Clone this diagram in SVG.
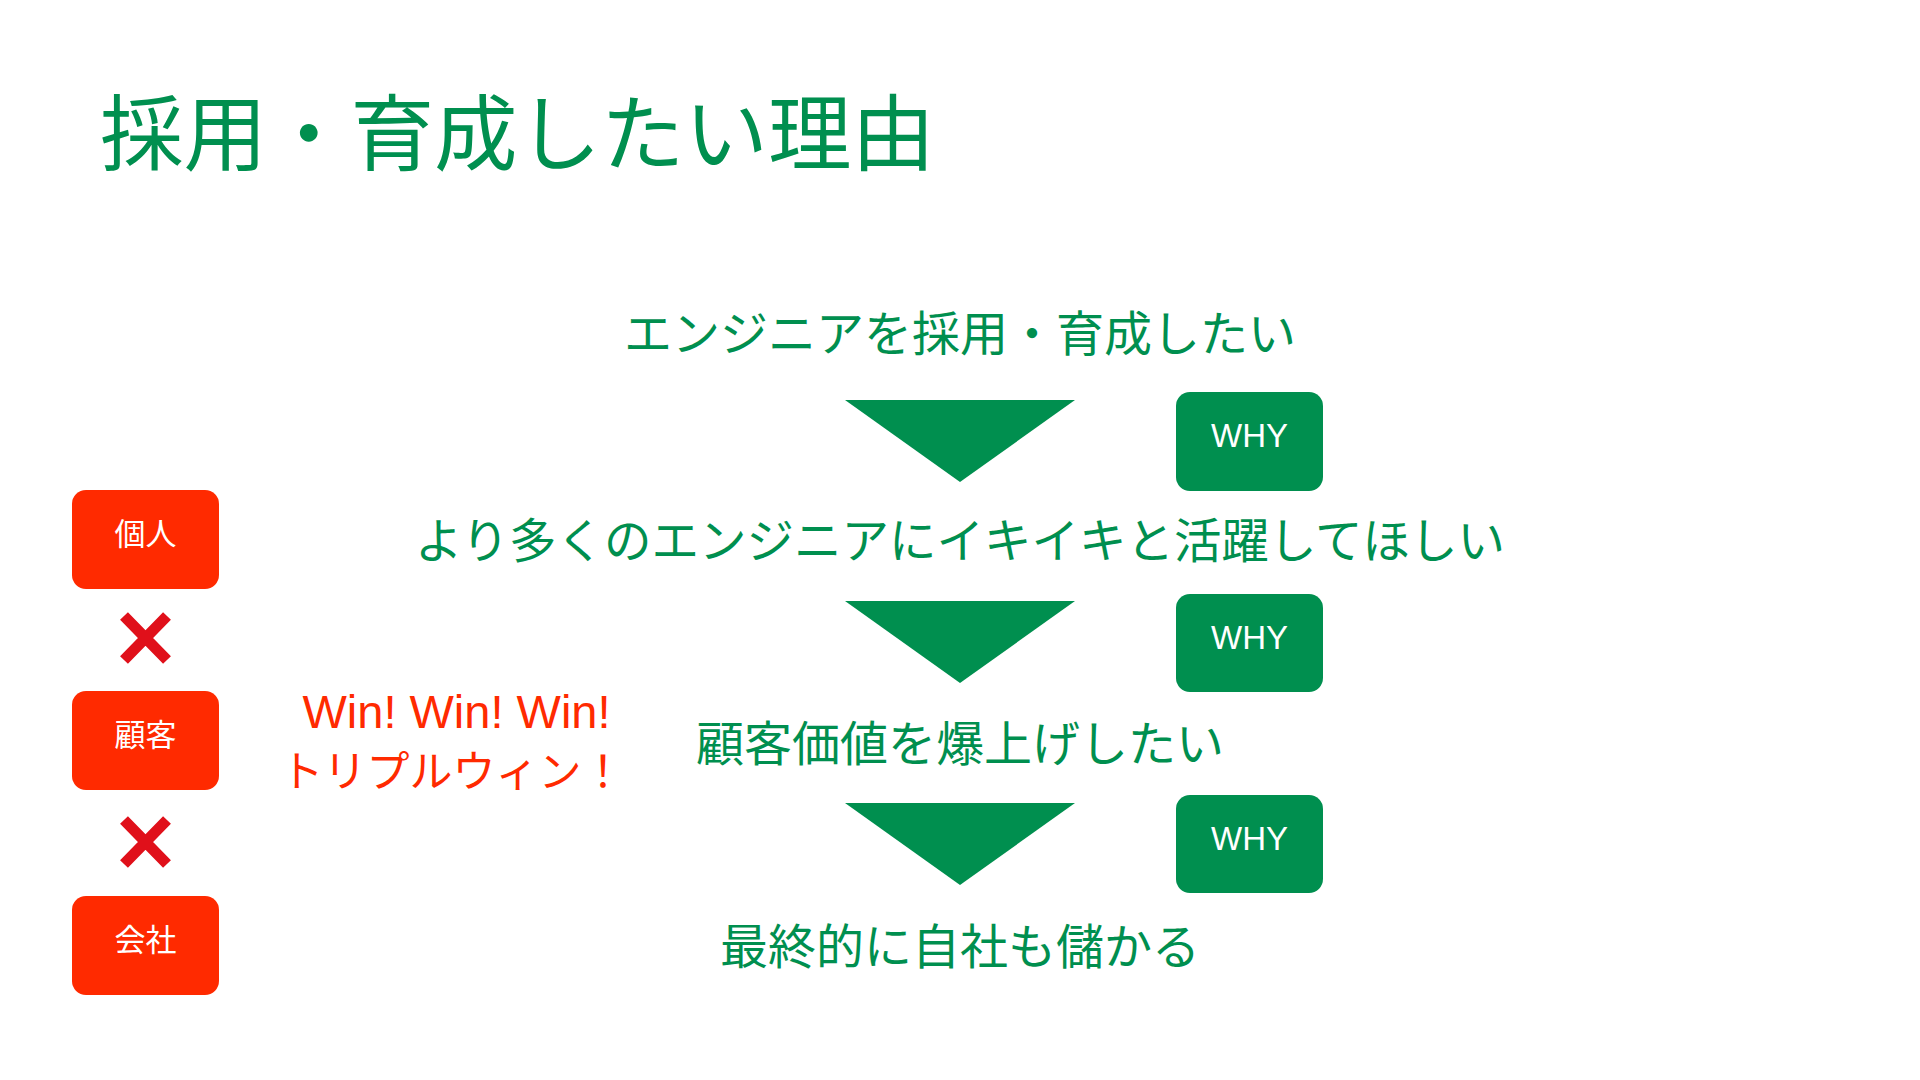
<svg xmlns="http://www.w3.org/2000/svg" width="1920" height="1080" viewBox="0 0 1920 1080">
<defs>
<style>
.g{fill:#008F4F}
.jp{font-family:"Noto Sans CJK JP","Noto Sans",sans-serif}
.line{font-size:48px;fill:#008F4F;text-anchor:middle}
.why{fill:#008F4F}
.whyt{font-family:"Liberation Sans",Arial,sans-serif;font-size:33px;fill:#ffffff;text-anchor:middle}
.red{fill:#FF2A00}
.redt{font-size:31px;fill:#ffffff;text-anchor:middle}
.x{stroke:#E0101A;stroke-width:11;fill:none}
.win{fill:#FF2A00;text-anchor:middle}
</style>
</defs>
<rect width="1920" height="1080" fill="#ffffff"/>
<text id="title" class="jp" x="100" y="164" font-size="83.5" fill="#008F4F">採用・育成したい理由</text>

<g id="step1"><text class="jp line" x="960" y="351">エンジニアを採用・育成したい</text></g>
<g id="step2"><text class="jp line" x="960" y="558" style="font-size:47.5px">より多くのエンジニアにイキイキと活躍してほしい</text></g>
<g id="step3"><text class="jp line" x="960" y="761">顧客価値を爆上げしたい</text></g>
<g id="step4"><text class="jp line" x="960" y="964">最終的に自社も儲かる</text></g>

<g id="connectors">
<polygon class="g" points="845,400 1075,400 960,482"/>
<polygon class="g" points="845,601 1075,601 960,683"/>
<polygon class="g" points="845,803 1075,803 960,885"/>
</g>

<g id="why1"><rect class="why" x="1176" y="392" width="147" height="99" rx="14"/><text class="whyt" x="1249.5" y="447">WHY</text></g>
<g id="why2"><rect class="why" x="1176" y="594" width="147" height="98" rx="14"/><text class="whyt" x="1249.5" y="649">WHY</text></g>
<g id="why3"><rect class="why" x="1176" y="795" width="147" height="98" rx="14"/><text class="whyt" x="1249.5" y="850">WHY</text></g>

<g id="kojin"><rect class="red" x="72" y="490" width="147" height="99" rx="14"/><text class="jp redt" x="145.5" y="545">個人</text></g>
<g id="cross1"><path class="x" d="M124,616 L167,660 M167,616 L124,660"/></g>
<g id="kokyaku"><rect class="red" x="72" y="691" width="147" height="99" rx="14"/><text class="jp redt" x="145.5" y="746">顧客</text></g>
<g id="cross2"><path class="x" d="M124,820 L167,864 M167,820 L124,864"/></g>
<g id="kaisha"><rect class="red" x="72" y="896" width="147" height="99" rx="14"/><text class="jp redt" x="145.5" y="951">会社</text></g>

<g id="triplewin">
<text class="win" x="456.5" y="728" font-family="Liberation Sans, Arial, sans-serif" font-size="47">Win! Win! Win!</text>
<text class="jp win" x="452.5" y="787" font-size="43">トリプルウィン！</text>
</g>
</svg>
